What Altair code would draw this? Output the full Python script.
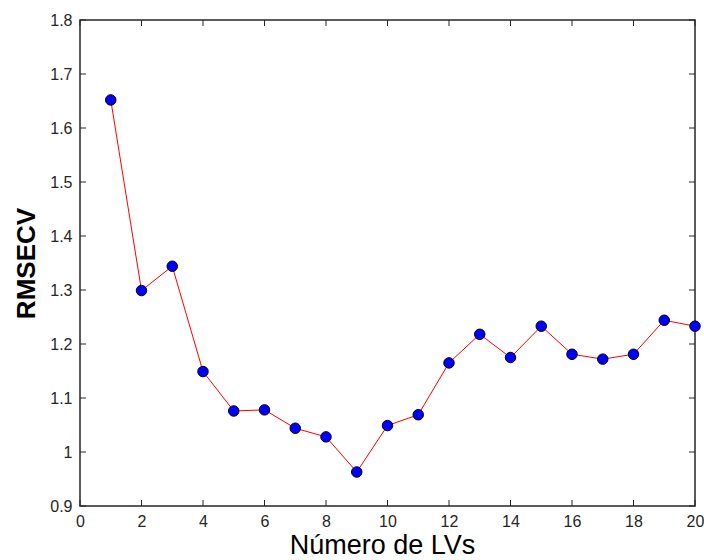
import altair as alt
import pandas as pd

lvs = list(range(1, 21))
rmsecv = [1.652, 1.299, 1.344, 1.149, 1.076, 1.078, 1.044, 1.028, 0.963, 1.049,
          1.069, 1.165, 1.218, 1.175, 1.233, 1.181, 1.172, 1.181, 1.244, 1.233]
x_ticks = [0, 2, 4, 6, 8, 10, 12, 14, 16, 18, 20]
y_ticks = [0.9, 1.0, 1.1, 1.2, 1.3, 1.4, 1.5, 1.6, 1.7, 1.8]

W, H = 615, 486
df = pd.DataFrame({"lv": lvs, "rmsecv": rmsecv})
xdf = pd.DataFrame({"t": x_ticks})
ydf = pd.DataFrame({"t": y_ticks})

FONT = "Liberation Sans"
xscale = alt.Scale(domain=[0, 20], nice=False, zero=False)
yscale = alt.Scale(domain=[0.9, 1.8], nice=False, zero=False)

label_expr = "datum.value == 1 ? '1' : format(datum.value, '.1f')"

xaxis = alt.Axis(values=x_ticks, tickSize=0, labelPadding=7, labelFontSize=16,
                 labelFont=FONT, labelColor="#262626", grid=False, domain=False,
                 title="Número de LVs", titleFont=FONT, titleFontSize=27,
                 titleFontWeight="normal", titleColor="#000000", titlePadding=3,
                 titleX=302, labelFlush=False)
yaxis = alt.Axis(values=y_ticks, tickSize=0, labelPadding=8, labelFontSize=16,
                 labelFont=FONT, labelColor="#262626", grid=False, domain=False,
                 labelExpr=label_expr,
                 title="RMSECV", titleFont=FONT, titleFontSize=26,
                 titleFontWeight="bold", titleColor="#000000", titlePadding=10,
                 labelFlush=False)

line = alt.Chart(df).mark_line(color="#ff0000", strokeWidth=1).encode(
    x=alt.X("lv:Q", scale=xscale, axis=xaxis),
    y=alt.Y("rmsecv:Q", scale=yscale, axis=yaxis),
)
pts = alt.Chart(df).mark_point(filled=True, shape="circle", size=110, fill="#0000ff",
                               stroke="#000000", strokeWidth=1, opacity=1).encode(
    x=alt.X("lv:Q", scale=xscale),
    y=alt.Y("rmsecv:Q", scale=yscale),
)

TL = 6
xb = alt.Chart(xdf).mark_rule(color="#262626", strokeWidth=1).encode(
    x=alt.X("t:Q", scale=xscale), y=alt.value(H), y2=alt.value(H - TL))
xt = alt.Chart(xdf).mark_rule(color="#262626", strokeWidth=1).encode(
    x=alt.X("t:Q", scale=xscale), y=alt.value(0), y2=alt.value(TL))
yl = alt.Chart(ydf).mark_rule(color="#262626", strokeWidth=1).encode(
    y=alt.Y("t:Q", scale=yscale), x=alt.value(0), x2=alt.value(TL))
yr = alt.Chart(ydf).mark_rule(color="#262626", strokeWidth=1).encode(
    y=alt.Y("t:Q", scale=yscale), x=alt.value(W), x2=alt.value(W - TL))

chart = alt.layer(xb, xt, yl, yr, line, pts).properties(
    width=W, height=H,
    autosize=alt.AutoSizeParams(type="none"),
    padding={"left": 80, "top": 20, "right": 9, "bottom": 54},
    background="#ffffff",
).configure_view(stroke="#262626", strokeWidth=1.5)

chart.save("out.html", embed_options={"renderer": "svg", "actions": False})
